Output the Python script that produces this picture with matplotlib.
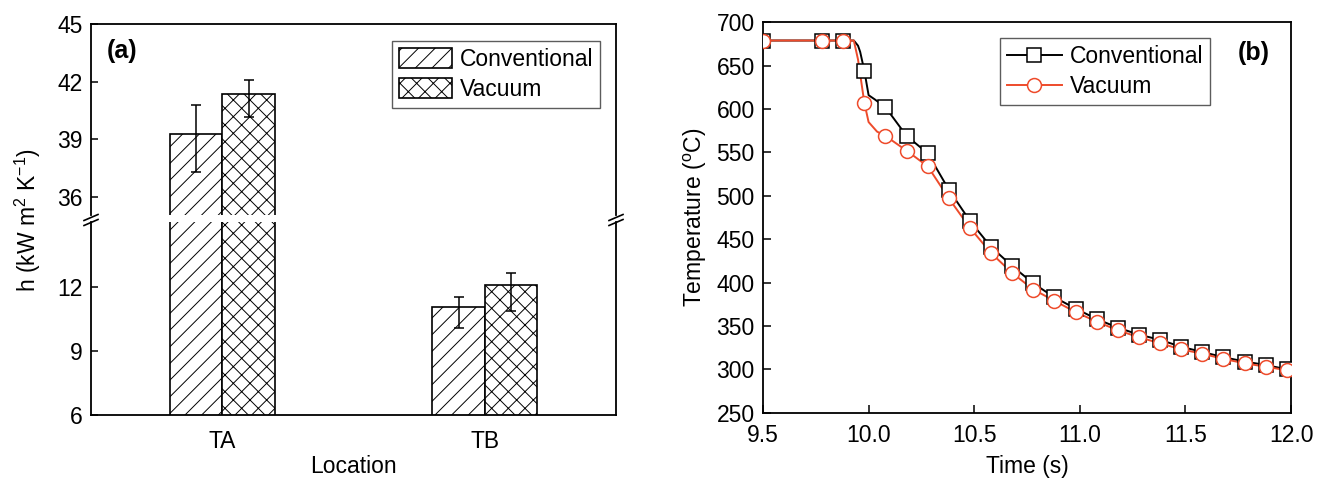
import numpy as np
import matplotlib
matplotlib.use("Agg")
import matplotlib.pyplot as plt
from matplotlib.lines import Line2D

plt.rcParams['font.family'] = ['Liberation Sans', 'DejaVu Sans']
plt.rcParams['mathtext.default'] = 'regular'
plt.rcParams['hatch.linewidth'] = 0.7
plt.rcParams['hatch.color'] = '#3a3a3a'

# ---------------- (a) heat transfer coefficient ----------------
locations = ['TA', 'TB']
h_conventional = [39.27, 11.08]
h_vacuum = [41.34, 12.09]
err_conv_low = [2.00, 0.98]
err_conv_high = [1.50, 0.47]
err_vac_low = [1.20, 1.22]
err_vac_high = [0.76, 0.55]
series_labels = ['Conventional', 'Vacuum']

# ---------------- (b) cooling curves ----------------
marker_time = [9.50, 9.78, 9.88, 9.98, 10.08, 10.18, 10.28, 10.38, 10.48, 10.58,
               10.68, 10.78, 10.88, 10.98, 11.08, 11.18, 11.28, 11.38, 11.48,
               11.58, 11.68, 11.78, 11.88, 11.98]
temp_conventional = [679, 679, 679, 644, 602, 569, 549, 507, 471, 441,
                     419, 399, 383, 370, 358, 348, 340, 334, 326,
                     320, 314, 309, 305, 300]
temp_vacuum = [679, 679, 679, 607, 569, 552, 534, 497, 463, 434,
               411, 392, 379, 366, 355, 345, 337, 330, 323,
               318, 312, 307, 303, 299]
# extra trace points around the quench onset
knee_time_conv = [9.93, 9.95, 9.96, 10.00, 10.03]
knee_temp_conv = [679, 673, 666, 616, 611]
knee_time_vac = [9.93, 9.95, 10.00, 10.04]
knee_temp_vac = [679, 657, 585, 574]

RED = '#EE4B2B'
W, H = 1323, 480
fig = plt.figure(figsize=(W / 100, H / 100), dpi=100)


def fig_rect(x0, y0, x1, y1):
    """Axes rectangle from pixel box (top-left origin)."""
    return [x0 / W, 1 - y1 / H, (x1 - x0) / W, (y1 - y0) / H]


FS = 16.5
ax_top = fig.add_axes(fig_rect(91, 24, 616, 215))
ax_bot = fig.add_axes(fig_rect(91, 222, 616, 415))

x = np.arange(len(locations))
bw = 0.2
for ax in (ax_top, ax_bot):
    ax.bar(x - bw / 2, h_conventional, bw, color='white', edgecolor='black',
           linewidth=1.2, hatch='//', label=series_labels[0])
    ax.bar(x + bw / 2, h_vacuum, bw, color='white', edgecolor='black',
           linewidth=1.2, hatch='xx', label=series_labels[1])
    ax.errorbar(x - bw / 2, h_conventional, yerr=[err_conv_low, err_conv_high],
                fmt='none', ecolor='black', elinewidth=1.1, capsize=3.6, capthick=1.1)
    ax.errorbar(x + bw / 2, h_vacuum, yerr=[err_vac_low, err_vac_high],
                fmt='none', ecolor='black', elinewidth=1.1, capsize=3.6, capthick=1.1)
    ax.set_xlim(-0.5, 1.5)
    for s in ax.spines.values():
        s.set_linewidth(1.3)
    ax.tick_params(axis='y', direction='in', length=5, width=1.1, labelsize=FS, pad=6)

ax_top.set_ylim(35.05, 45)
ax_top.set_yticks([36, 39, 42, 45])
ax_top.spines['bottom'].set_visible(False)
ax_top.tick_params(axis='x', bottom=False, labelbottom=False)

ax_bot.set_ylim(6, 15.05)
ax_bot.set_yticks([6, 9, 12])
ax_bot.spines['top'].set_visible(False)
ax_bot.set_xticks(x)
ax_bot.set_xticklabels(locations)
ax_bot.tick_params(axis='x', length=0, labelsize=FS, pad=11)
ax_bot.set_xlabel('Location', fontsize=FS, labelpad=1)

fig.text(28 / W, 1 - 220 / H, 'h (kW m$^2$ K$^{-1}$)', rotation=90,
         ha='center', va='center', fontsize=FS)

# axis break marks on both side spines
for xs in (91, 616):
    for yc in (217.5, 222.5):
        fig.add_artist(Line2D([(xs - 7) / W, (xs + 7) / W],
                              [1 - (yc + 3) / H, 1 - (yc - 3) / H],
                              color='black', lw=1.2))

leg_a = ax_top.legend(loc='upper right', bbox_to_anchor=(0.970, 0.911),
                      borderaxespad=0, fontsize=FS, frameon=True, fancybox=False,
                      edgecolor='#333333', handlelength=2.3, handleheight=0.95,
                      handletextpad=0.35, labelspacing=0.3, borderpad=0.3)
leg_a.get_frame().set_linewidth(1.0)
ax_top.text(107 / W, 1 - 51 / H, '(a)', transform=fig.transFigure,
            fontsize=18, fontweight='bold', ha='left', va='center')

# ---------------- right panel ----------------
ax_r = fig.add_axes(fig_rect(763, 22.3, 1291, 412.7))

t_conv = np.array(marker_time + knee_time_conv)
T_conv = np.array(temp_conventional + knee_temp_conv)
o = np.argsort(t_conv)
t_vac = np.array(marker_time + knee_time_vac)
T_vac = np.array(temp_vacuum + knee_temp_vac)
p = np.argsort(t_vac)

ax_r.plot(t_conv[o], T_conv[o], color='black', lw=1.4, zorder=2)
ax_r.plot(t_vac[p], T_vac[p], color=RED, lw=1.4, zorder=3)
ax_r.plot(marker_time, temp_conventional, ls='none', marker='s', ms=9.5,
          mfc='white', mec='black', mew=1.1, zorder=4)
ax_r.plot(marker_time, temp_vacuum, ls='none', marker='o', ms=10,
          mfc='white', mec=RED, mew=1.1, zorder=5)

ax_r.set_xlim(9.5, 12.0)
ax_r.set_ylim(250, 700)
ax_r.set_xticks([9.5, 10.0, 10.5, 11.0, 11.5, 12.0])
ax_r.set_xticklabels(['9.5', '10.0', '10.5', '11.0', '11.5', '12.0'])
ax_r.set_yticks(np.arange(250, 701, 50))
ax_r.tick_params(direction='in', length=6, width=1.1, labelsize=FS, pad=6)
ax_r.tick_params(axis='x', pad=8)
for s in ax_r.spines.values():
    s.set_linewidth(1.3)
ax_r.set_xlabel('Time (s)', fontsize=FS, labelpad=6)
ax_r.set_ylabel('Temperature ($^{o}$C)', fontsize=FS, labelpad=5)

handles = [Line2D([], [], color='black', lw=1.4, marker='s', ms=9.5, mfc='white',
                  mec='black', mew=1.1),
           Line2D([], [], color=RED, lw=1.4, marker='o', ms=10, mfc='white',
                  mec=RED, mew=1.1)]
leg_b = ax_r.legend(handles, series_labels, loc='upper right',
                    bbox_to_anchor=(0.847, 0.96), borderaxespad=0, fontsize=FS,
                    frameon=True, fancybox=False, edgecolor='#333333',
                    handlelength=2.4, handletextpad=0.35, labelspacing=0.3,
                    borderpad=0.3)
leg_b.get_frame().set_linewidth(1.0)
ax_r.text(1238 / W, 1 - 53 / H, '(b)', transform=fig.transFigure,
          fontsize=18, fontweight='bold', ha='left', va='center')

fig.savefig('out.png', dpi=100)
